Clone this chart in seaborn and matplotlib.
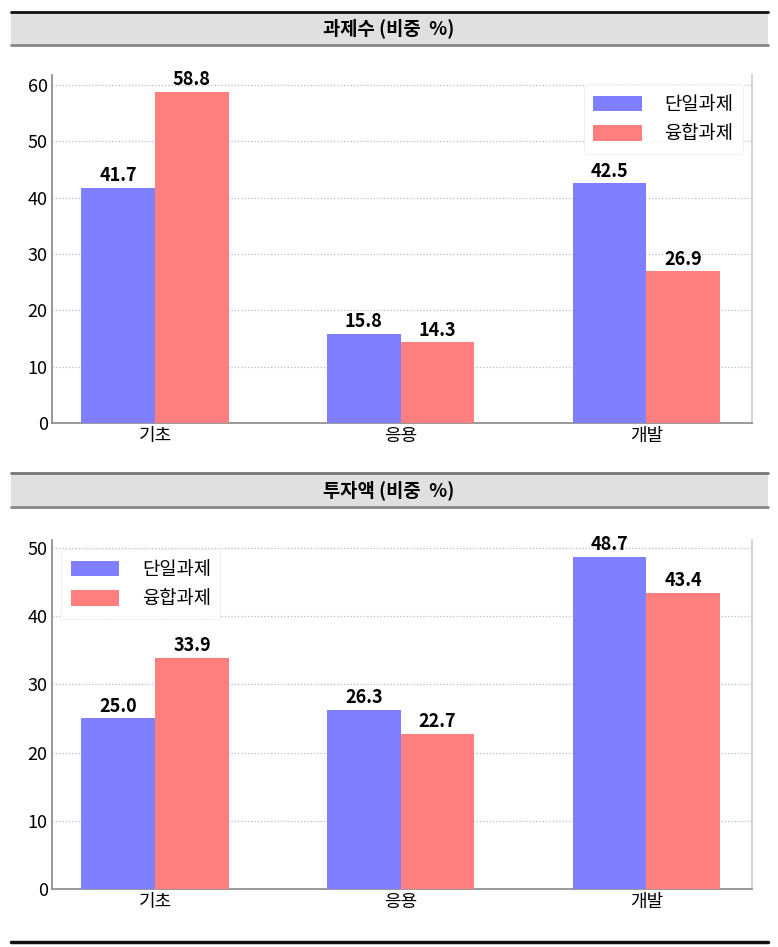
import pandas as pd
import matplotlib.pyplot as plt
import seaborn as sns
from matplotlib.patches import Rectangle
from matplotlib.lines import Line2D

stages = ['기초', '응용', '개발']
groups = ['단일과제', '융합과제']
count_single = [41.7, 15.8, 42.5]
count_fusion = [58.8, 14.3, 26.9]
invest_single = [25.0, 26.3, 48.7]
invest_fusion = [33.9, 22.7, 43.4]
titles = ['과제수 (비중  %)', '투자액 (비중  %)']

colors = ['#7f7fff', '#ff7f7f']

sns.set_theme(style='white')
plt.rcParams['font.family'] = ['Noto Sans CJK KR', 'DejaVu Sans']
plt.rcParams['text.color'] = 'black'
plt.rcParams['xtick.color'] = 'black'
plt.rcParams['ytick.color'] = 'black'


def make_df(single, fusion):
    return pd.DataFrame({
        '단계': stages * 2,
        '구분': [groups[0]] * 3 + [groups[1]] * 3,
        '비중': single + fusion,
    })


fig = plt.figure(figsize=(7.78, 9.47), dpi=100)

panels = [
    (make_df(count_single, count_fusion), [0.0668, 0.5533, 0.8997, 0.3675], 'upper right'),
    (make_df(invest_single, invest_fusion), [0.0668, 0.0612, 0.8997, 0.3685], 'upper left'),
]

for df, pos, loc in panels:
    ax = fig.add_axes(pos)
    sns.barplot(data=df, x='단계', y='비중', hue='구분', palette=colors,
                width=0.6, saturation=1, linewidth=0, ax=ax, zorder=3)
    for c in ax.containers:
        ax.bar_label(c, fmt='%.1f', fontweight='bold', fontsize=13, padding=2)
    ax.set_xlim(-0.42, 2.43)
    ax.set_ylim(0, df['비중'].max() * 1.05)
    ax.set_xlabel('')
    ax.set_ylabel('')
    ax.yaxis.grid(True, linestyle=':', color='#bbbbbb', linewidth=0.9, zorder=0)
    ax.tick_params(axis='y', length=2, width=1, color='#555555', labelsize=13, pad=1)
    ax.tick_params(axis='x', length=0, labelsize=13, pad=3)
    for side in ['left', 'bottom']:
        ax.spines[side].set_color('#888888')
        ax.spines[side].set_linewidth(1.2)
    ax.spines['top'].set_visible(False)
    ax.spines['right'].set_color('#cccccc')
    ax.spines['right'].set_linewidth(1.2)
    leg = ax.legend(loc=loc, fontsize=13.5, frameon=True, handlelength=2.6,
                    handleheight=0.9, borderpad=0.5, handletextpad=1.2,
                    labelspacing=0.45)
    leg.get_frame().set_edgecolor('#eeeeee')
    leg.get_frame().set_linewidth(0.8)

# title boxes
boxes = [(0.9873, 0.9525, '#111111'), (0.5005, 0.4646, '#777777')]
for (top, bottom, topcol), title in zip(boxes, titles):
    fig.patches.append(Rectangle((0.0141, bottom), 0.9731, top - bottom,
                                 transform=fig.transFigure, facecolor='#e0e0e0',
                                 edgecolor='none', zorder=0))
    fig.lines.append(Line2D([0.0141, 0.9872], [top, top], transform=fig.transFigure,
                            color=topcol, linewidth=2))
    fig.lines.append(Line2D([0.0141, 0.9872], [bottom, bottom], transform=fig.transFigure,
                            color='#888888', linewidth=2))
    fig.text(0.5, (top + bottom) / 2, title, ha='center', va='center',
             fontsize=13.5, fontweight='bold')

fig.lines.append(Line2D([0.0141, 0.9872], [0.0053, 0.0053], transform=fig.transFigure,
                        color='#111111', linewidth=2.5))

fig.savefig('out.png', dpi=100)
